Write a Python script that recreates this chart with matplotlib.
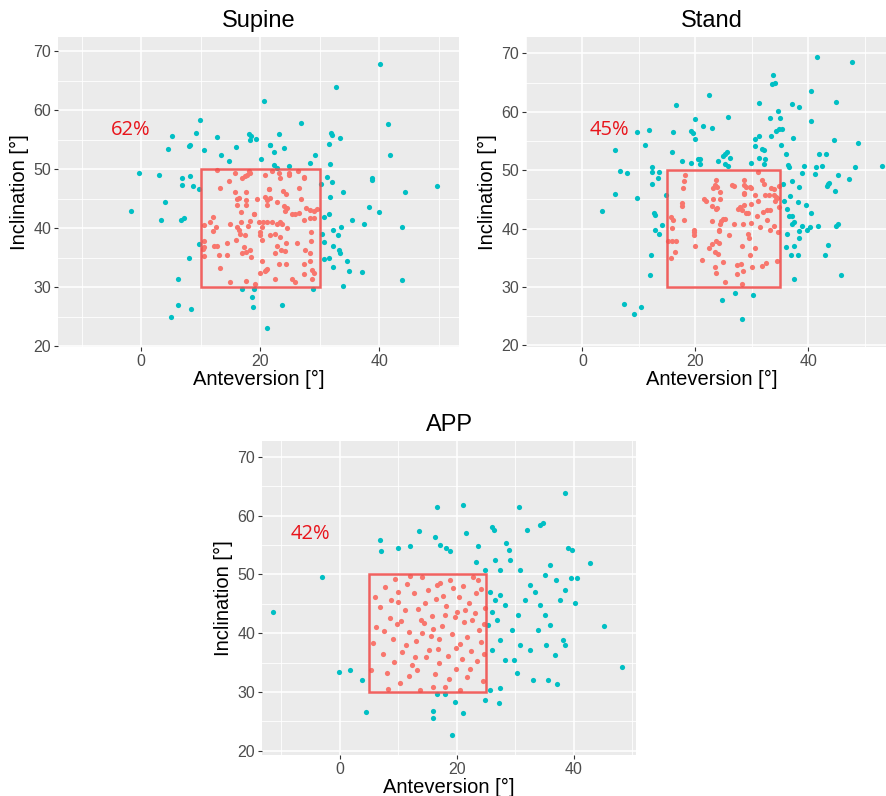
import numpy as np
import matplotlib.pyplot as plt
from matplotlib.patches import Rectangle

# Supine: anteversion / inclination
sup_ant = [20.6, 9.9, 9.2, 5.2, 4.6, 8.1, 8.2, 10.6, 12.8, 15.9, 13.5, 14.8, 18.2, 18.4, 19.3, 18.3, 20.2, 21.6,
           -0.4, 3.0, 6.8, 8.2, 6.8, 8.7, 9.7, -1.7, 4.0, 3.3, 6.7, 7.2, 9.7, 8.0, 6.2, 6.2, 8.3, 5.1, 17.0, 18.9,
           18.6, 18.8, 21.1, 40.2, 32.7, 26.9, 23.1, 31.9, 32.0, 33.4, 31.6, 21.7, 22.3, 24.0, 41.5, 41.8, 29.2,
           28.3, 31.7, 22.4, 22.8, 24.8, 31.2, 32.0, 30.2, 33.9, 38.7, 38.8, 31.7, 44.4, 49.7, 38.2, 40.0, 30.8,
           31.6, 35.4, 37.5, 43.8, 33.5, 32.3, 33.0, 30.4, 30.8, 32.2, 33.2, 33.4, 30.8, 31.6, 34.6, 32.3, 34.9,
           37.1, 43.8, 33.9, 28.9, 23.6,
           12.8, 15.8, 17.0, 17.5, 17.8, 18.2, 18.3, 20.8, 22.0, 13.2, 14.7, 15.7, 17.6, 16.5, 21.5, 10.6, 11.5,
           12.0, 12.6, 12.0, 10.5, 10.6, 10.4, 10.5, 12.3, 12.8, 13.1, 14.5, 13.2, 15.0, 14.5, 15.9, 15.0, 16.1,
           16.1, 17.6, 17.7, 16.7, 16.7, 16.1, 16.4, 16.6, 17.5, 18.0, 18.3, 18.9, 17.2, 16.9, 17.7, 18.3, 18.5,
           19.8, 20.5, 20.3, 19.9, 20.3, 20.0, 20.3, 21.0, 19.9, 17.7, 19.2, 19.0, 19.4, 21.1, 21.1, 20.8, 23.1,
           23.4, 24.8, 24.9, 26.3, 27.3, 27.4, 21.4, 23.9, 24.3, 26.6, 21.7, 26.8, 22.8, 24.0, 24.5, 24.1, 25.4,
           25.9, 26.6, 27.3, 27.7, 28.4, 29.0, 29.5, 28.4, 29.0, 21.1, 22.0, 22.8, 23.4, 23.6, 24.5, 21.7, 22.5,
           23.4, 24.4, 26.2, 28.5, 28.5, 22.8, 23.5, 24.2, 22.5, 27.6, 28.3, 23.1, 24.4, 27.3, 28.4, 28.7, 29.0,
           20.8, 21.1, 22.5, 25.3, 25.9, 27.4, 28.7]
sup_inc = [61.6, 58.4, 56.2, 55.6, 53.4, 53.9, 54.1, 53.2, 55.5, 53.8, 52.4, 51.4, 56.0, 55.7, 55.1, 54.9, 51.7, 54.2,
           49.3, 49.1, 48.5, 48.9, 47.4, 47.2, 46.6, 42.9, 44.4, 41.5, 41.4, 41.8, 37.3, 35.0, 31.5, 27.0, 26.4, 25.0,
           29.8, 29.8, 28.3, 26.6, 23.2, 67.9, 63.9, 57.8, 56.0, 56.2, 55.9, 55.3, 54.3, 54.2, 53.0, 53.6, 57.6,
           52.5, 52.4, 51.0, 50.9, 50.7, 50.3, 50.6, 48.7, 47.9, 47.6, 46.1, 48.5, 48.2, 45.4, 46.1, 47.2, 43.7,
           42.8, 42.0, 42.4, 41.4, 40.7, 40.2, 40.2, 39.7, 38.9, 39.0, 37.7, 37.1, 36.4, 35.8, 34.8, 35.0, 34.4,
           33.4, 32.8, 32.6, 31.3, 30.2, 29.7, 27.1,
           49.9, 49.3, 48.5, 48.9, 49.1, 49.7, 49.3, 49.0, 49.8, 46.9, 48.1, 46.1, 46.1, 45.1, 46.6, 40.6, 41.0,
           42.0, 40.2, 39.5, 37.8, 36.9, 36.5, 35.3, 37.1, 37.1, 35.5, 35.5, 33.3, 40.7, 37.6, 38.1, 30.9, 44.0,
           44.9, 44.8, 43.9, 42.8, 41.1, 40.3, 39.7, 39.1, 38.9, 40.4, 41.3, 42.5, 36.9, 35.8, 36.0, 36.3, 35.2,
           41.1, 41.0, 40.3, 39.4, 38.0, 38.9, 34.5, 32.9, 32.5, 31.1, 30.5, 42.4, 44.9, 44.0, 44.8, 45.3, 49.4,
           48.5, 49.4, 49.1, 49.8, 48.7, 48.5, 46.7, 46.4, 45.9, 46.9, 45.1, 44.9, 44.5, 43.8, 43.4, 43.0, 42.4,
           42.4, 42.6, 41.5, 43.4, 43.1, 43.0, 43.2, 41.7, 41.7, 41.0, 41.1, 40.8, 41.1, 40.8, 40.1, 38.9, 39.0,
           38.6, 37.6, 37.5, 39.4, 37.9, 37.1, 36.4, 36.2, 35.9, 36.3, 35.9, 34.0, 34.0, 33.9, 34.4, 32.9, 32.4,
           32.7, 33.1, 31.5, 31.5, 31.0, 32.2, 31.5]

# Stand
std_ant = [16.5, 9.7, 11.7, 16.1, 11.0, 5.7, 15.9, 17.7, 19.3, 19.2, 19.5, 19.9, 19.9, 6.7, 7.8, 12.3, 12.3, 13.5,
           13.3, 12.3, 5.8, 9.7, 14.8, 3.4, 12.7, 12.9, 14.1, 12.9, 13.5, 12.2, 11.9, 7.4, 10.3, 9.2,
           41.6, 47.8, 33.8, 33.5, 34.1, 22.5, 40.4, 44.9, 31.3, 37.1, 38.4, 21.3, 22.9, 25.8, 33.3, 34.6, 35.0,
           40.5, 34.3, 34.9, 35.4, 33.4, 31.3, 30.6, 30.6, 37.3, 44.6, 48.8, 35.2, 31.8, 32.1, 25.6, 25.3, 24.9,
           26.2, 31.3, 32.3, 36.1, 41.9, 43.1, 20.5, 20.9, 20.8, 24.0, 25.3, 25.8, 29.8, 32.1, 36.4, 36.6, 39.2,
           38.9, 41.3, 41.2, 42.5, 48.2, 53.1, 45.2, 47.3, 37.1, 38.4, 43.5, 43.7, 43.4, 44.8, 35.6, 36.8, 35.7,
           38.2, 39.6, 36.2, 40.5, 36.6, 37.1, 37.4, 37.2, 38.9, 41.8, 40.3, 39.7, 44.9, 45.3, 38.3, 36.2, 38.4,
           43.5, 36.1, 37.4, 36.9, 38.1, 42.9, 45.8, 37.4, 24.7, 27.1, 30.2, 28.2,
           18.2, 18.0, 17.8, 15.7, 16.0, 15.9, 15.2, 15.8, 16.5, 16.4, 15.7, 17.9, 17.6, 17.7, 19.8, 19.8, 20.0,
           19.7, 31.1, 23.7, 23.5, 23.9, 24.3, 23.2, 26.4, 26.8, 28.6, 28.7, 29.0, 29.7, 29.9, 31.8, 32.2, 33.4,
           34.0, 34.9, 30.5, 28.6, 32.4, 33.1, 34.0, 34.3, 24.3, 21.6, 21.1, 21.8, 23.1, 23.0, 23.7, 23.8, 23.0,
           24.5, 24.3, 24.9, 25.3, 24.1, 24.2, 23.7, 24.2, 22.9, 22.5, 23.4, 24.0, 23.4, 23.7, 24.9, 25.3, 26.0,
           26.8, 27.5, 27.9, 28.2, 29.0, 29.3, 28.5, 29.3, 29.5, 28.2, 27.4, 28.0, 28.4, 27.4, 28.2, 29.6, 30.6,
           29.8, 30.9, 31.4, 31.9, 32.6, 33.3, 32.7, 33.9, 33.3, 34.6, 34.9, 28.6, 31.1, 34.1, 34.5, 29.8, 28.7,
           30.0, 31.8, 32.5, 34.5]
std_inc = [61.1, 56.5, 56.9, 56.5, 54.3, 53.5, 53.2, 51.6, 51.2, 56.7, 56.3, 55.4, 58.8, 49.8, 49.6, 50.5, 49.7, 49.7,
           48.6, 47.7, 46.0, 45.2, 45.7, 43.0, 42.7, 42.3, 40.6, 39.7, 39.0, 35.5, 32.0, 27.1, 26.5, 25.3,
           69.4, 68.5, 66.3, 64.8, 65.0, 62.9, 63.6, 61.7, 61.5, 61.3, 60.8, 57.6, 57.2, 59.1, 59.0, 60.1, 58.9,
           58.5, 56.7, 57.1, 57.0, 55.8, 55.8, 55.3, 54.2, 55.5, 55.2, 54.7, 54.3, 53.7, 53.5, 53.1, 52.8, 52.4,
           52.1, 52.1, 52.0, 52.8, 52.8, 52.7, 51.9, 51.9, 51.1, 51.5, 51.1, 50.7, 51.3, 51.1, 50.9, 50.6, 50.7,
           49.5, 50.5, 49.3, 50.8, 50.5, 50.7, 49.2, 48.5, 48.2, 47.2, 47.6, 47.8, 47.3, 46.4, 47.6, 45.6, 44.7,
           44.5, 44.1, 43.3, 42.6, 42.2, 42.2, 41.1, 40.7, 40.5, 40.5, 40.2, 39.7, 40.4, 40.7, 39.6, 39.0, 38.3,
           37.2, 36.8, 37.0, 35.4, 35.5, 35.4, 32.0, 31.3, 27.7, 28.9, 28.6, 24.5,
           49.1, 48.2, 47.0, 41.9, 41.5, 40.1, 37.8, 37.8, 37.9, 35.9, 34.9, 41.4, 43.9, 44.3, 39.7, 38.9, 37.0,
           39.4, 49.7, 48.3, 47.5, 47.1, 46.3, 46.9, 47.5, 47.3, 48.3, 47.4, 47.1, 47.1, 47.0, 48.3, 47.6, 47.0,
           46.7, 47.3, 45.7, 45.9, 45.7, 45.7, 45.7, 45.4, 45.0, 45.0, 34.6, 44.8, 45.0, 43.9, 43.3, 43.5, 41.3,
           41.3, 40.7, 41.6, 41.6, 39.8, 39.5, 37.9, 37.6, 37.4, 36.7, 36.0, 35.7, 33.5, 32.4, 34.3, 30.9, 38.9,
           40.8, 43.4, 43.7, 43.1, 42.7, 42.7, 40.7, 39.1, 38.3, 37.0, 33.8, 34.0, 32.7, 32.2, 30.5, 35.4, 36.7,
           41.0, 42.2, 40.3, 42.9, 43.1, 43.2, 41.4, 40.5, 39.8, 39.4, 43.7, 46.1, 44.8, 44.8, 45.2, 44.2, 44.0,
           33.5, 33.6, 34.1, 34.4]

# APP
app_ant = [-11.5, -3.1, -0.2, 1.7, 3.8, 4.4, 6.8, 7.0, 9.9, 12.0, 13.5, 16.2, 17.1, 18.1, 18.8, 16.6, 21.0, 21.5,
           23.6, 23.2, 26.0, 26.3, 28.4, 28.9, 30.6, 32.0, 34.2, 34.7, 38.5, 39.0, 39.7, 42.7, 40.5, 39.5, 38.5,
           40.2, 45.1, 48.2, 38.1, 38.5, 35.6, 37.1, 33.0, 30.3, 29.7, 27.4, 27.2, 25.6, 24.8, 19.7, 17.9, 16.6,
           21.0, 15.9, 15.9, 19.1, 25.6, 26.5, 27.4, 28.2, 26.0, 26.8, 25.3, 27.4, 26.0, 28.2, 29.4, 30.4, 31.6,
           32.5, 33.3, 34.2, 35.0, 35.9, 33.8, 35.2, 36.8, 32.5, 30.8, 37.6, 36.9, 35.0, 35.9, 30.8, 29.1, 27.4,
           26.5, 24.8,
           5.6, 6.2, 6.8, 7.3, 7.8, 8.1, 8.6, 9.0, 9.4, 9.9, 10.2, 10.7, 11.1, 11.5, 11.8, 12.3, 12.6, 13.0, 13.4,
           13.7, 14.1, 14.4, 14.8, 15.1, 15.5, 15.8, 16.2, 16.5, 16.8, 17.2, 17.5, 17.9, 18.2, 18.5, 18.9, 19.2,
           19.6, 19.9, 20.3, 20.6, 21.0, 21.3, 21.7, 22.0, 22.4, 22.7, 23.1, 23.4, 23.8, 24.1, 24.5, 24.8, 6.0,
           7.5, 8.3, 9.2, 10.5, 11.3, 12.0, 13.2, 14.6, 15.3, 16.0, 16.9, 17.7, 18.7, 19.4, 20.1, 20.9, 21.8,
           22.6, 23.3, 24.2, 24.7, 5.3, 10.0, 13.8, 17.0, 19.8, 22.3, 24.6, 12.9, 15.9, 18.0, 21.4, 23.6, 8.8,
           11.9, 20.5, 16.6, 14.0, 9.7]
app_inc = [43.6, 49.6, 33.4, 33.8, 32.1, 26.6, 55.9, 54.0, 54.5, 54.9, 57.4, 56.4, 55.0, 54.5, 54.0, 61.5, 61.8, 57.1,
           54.9, 52.1, 58.1, 57.6, 55.4, 54.2, 61.5, 57.6, 58.4, 58.8, 63.9, 54.5, 54.2, 52.0, 49.4, 49.4, 47.4,
           45.2, 41.3, 34.3, 38.9, 38.0, 32.1, 31.4, 32.1, 33.3, 35.5, 30.7, 28.2, 30.4, 28.7, 28.3, 29.6, 29.7,
           26.5, 26.8, 25.6, 22.7, 47.0, 45.7, 46.5, 44.8, 43.6, 42.3, 41.4, 38.9, 37.2, 35.5, 40.6, 43.1, 45.7,
           48.2, 47.0, 44.8, 43.1, 41.4, 40.6, 38.0, 36.3, 37.2, 38.0, 45.7, 49.1, 49.9, 51.6, 50.8, 52.5, 50.8,
           52.5, 50.8,
           38.3, 41.0, 44.5, 36.5, 47.8, 33.2, 42.6, 39.1, 49.2, 45.3, 31.5, 36.8, 43.9, 48.4, 40.2, 34.6, 46.9,
           38.7, 44.1, 30.3, 49.5, 41.7, 35.9, 47.3, 39.6, 43.0, 33.1, 45.8, 37.4, 48.6, 41.2, 30.8, 44.7, 36.2,
           49.0, 39.9, 42.8, 34.0, 46.2, 38.1, 48.0, 41.9, 32.5, 45.1, 37.0, 49.6, 43.4, 35.3, 40.5, 47.6, 31.9,
           44.3, 46.2, 40.4, 30.6, 35.2, 42.1, 38.0, 49.7, 33.8, 45.1, 37.2, 40.8, 34.9, 46.4, 32.2, 47.7, 43.6,
           35.7, 39.3, 42.3, 46.9, 38.6, 41.5, 33.7, 47.1, 42.3, 39.0, 37.5, 33.9, 36.5, 36.0, 30.9, 43.1, 44.0,
           49.1, 45.7, 32.7, 30.4, 48.2, 40.0, 41.5]

panels = [
    ('Supine', sup_ant, sup_inc, (10, 30), '62%', (-1.8, 56.6), [0.0655, 0.564, 0.4526, 0.3894], (-13.95, 53.4), (19.9, 72.4)),
    ('Stand', std_ant, std_inc, (15, 35), '45%', (4.8, 56.9), [0.5937, 0.564, 0.4199, 0.3894], (-7.9, 55.9), (19.7, 72.8)),
    ('APP', app_ant, app_inc, (5, 25), '42%', (-5.1, 56.9), [0.2957, 0.0515, 0.4221, 0.3945], (-13.3, 50.6), (19.3, 72.7)),
]

BG = '#EBEBEB'
CYAN = '#00BFC4'
SALMON = '#F8766D'

fig = plt.figure(figsize=(8.86, 7.96), dpi=100)

for title, ant, inc, (lo, hi), pct, (tx, ty), pos, xl, yl in panels:
    ant = np.array(ant)
    inc = np.array(inc)
    inside = (ant >= lo) & (ant <= hi) & (inc >= 30) & (inc <= 50)

    ax = fig.add_axes(pos)
    ax.set_facecolor(BG)
    ax.scatter(ant[~inside], inc[~inside], s=14, color=CYAN, linewidths=0, zorder=3)
    ax.scatter(ant[inside], inc[inside], s=14, color=SALMON, linewidths=0, zorder=3)
    ax.add_patch(Rectangle((lo, 30), hi - lo, 20, fill=False, edgecolor='#F0514F',
                           linewidth=1.8, alpha=0.9, zorder=4))
    ax.text(tx, ty, pct, color='#E8141B', fontsize=14.5, family='Open Sans',
            ha='center', va='center', zorder=5)

    ax.set_xlim(*xl)
    ax.set_ylim(*yl)
    ax.set_xticks([0, 20, 40])
    ax.set_xticks([-10, 10, 30, 50], minor=True)
    ax.set_yticks([20, 30, 40, 50, 60, 70])
    ax.set_yticks([25, 35, 45, 55, 65], minor=True)
    ax.grid(which='major', color='white', linewidth=1.1, zorder=0)
    ax.grid(which='minor', color='white', linewidth=0.6, zorder=0)
    ax.set_axisbelow(True)
    for sp in ax.spines.values():
        sp.set_visible(False)
    ax.tick_params(which='major', length=3, width=0.8, color='#333333',
                   labelsize=11.5, labelcolor='#4D4D4D', pad=2)
    ax.tick_params(which='minor', length=0)
    for lab in ax.get_xticklabels() + ax.get_yticklabels():
        lab.set_family('Liberation Sans')

    ax.set_title(title, fontsize=17, family='Liberation Sans', pad=7)
    ax.set_xlabel('Anteversion [°]', fontsize=14.5, family='Liberation Sans', labelpad=1)
    ax.set_ylabel('Inclination [°]', fontsize=14.5, family='Liberation Sans', labelpad=3)

plt.savefig('out.png', dpi=100)
